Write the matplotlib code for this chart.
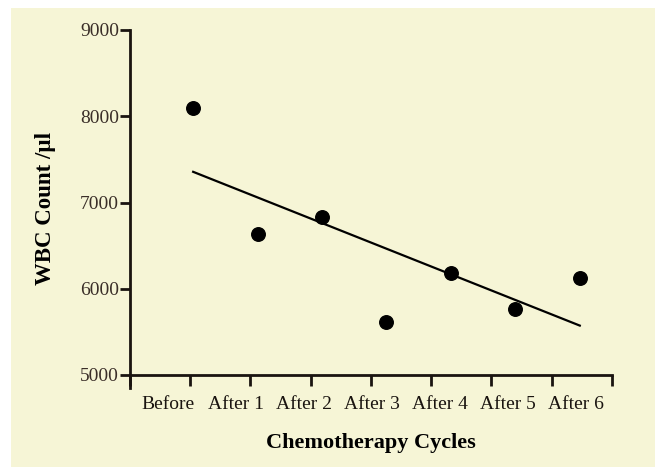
import numpy as np
import matplotlib

matplotlib.use("Agg")
import matplotlib.pyplot as plt
from matplotlib.patches import Rectangle

cycles = ["Before", "After 1", "After 2", "After 3", "After 4", "After 5", "After 6"]
wbc = [8100, 6640, 6830, 5610, 6180, 5760, 6130]

CREAM = "#f6f5d6"
INK = "#1a1410"

plt.rcParams["font.family"] = ["Liberation Serif", "DejaVu Serif"]

fig = plt.figure(figsize=(6.55, 4.67), dpi=100, facecolor="white")
fig.add_artist(Rectangle((11 / 655, 0), 1, 1 - 8 / 467, transform=fig.transFigure,
                         facecolor=CREAM, edgecolor="none", zorder=0))
ax = fig.add_axes([130 / 655, 92 / 467, 482 / 655, 345 / 467])
ax.set_facecolor(CREAM)

x = np.arange(len(cycles))
ax.scatter(x, wbc, s=95, color="black", zorder=3)

# linear fit drawn across the measured cycles
slope, icept = np.polyfit(x, wbc, 1)
ax.plot([x[0], x[-1]], [icept, icept + slope * x[-1]], color="black", lw=1.6)

xmin, xmax = -0.98, 6.5
ax.set_xlim(xmin, xmax)
ax.set_ylim(5000, 9000)
ax.set_yticks([5000, 6000, 7000, 8000, 9000])
ax.set_xticks(np.linspace(xmin, xmax, 9))
ax.set_xticklabels([])
# labels sit slightly left of the points, as in the original figure
ax.set_xticks(-0.39 + 1.054 * x, minor=True)
ax.set_xticklabels(cycles, minor=True, fontsize=14, color=INK)
ax.tick_params(axis="x", which="minor", length=0, pad=15)
ax.tick_params(axis="x", which="major", length=8, width=2, color=INK)
ax.tick_params(axis="y", length=7, width=2, color=INK, labelsize=14, labelcolor="#3a2e28", pad=1)

for side in ("top", "right"):
    ax.spines[side].set_visible(False)
for side in ("left", "bottom"):
    ax.spines[side].set_linewidth(2)
    ax.spines[side].set_color(INK)
ax.spines["left"].set_bounds(4850, 9000)

ax.set_xlabel("Chemotherapy Cycles", fontsize=16, fontweight="bold")
ax.set_ylabel("WBC Count /\u00b5l", fontsize=16.5, fontweight="bold")
ax.xaxis.set_label_coords(0.5, -0.168)
ax.yaxis.set_label_coords(-0.153, 0.484)

fig.savefig("out.png", dpi=100, facecolor=fig.get_facecolor())
